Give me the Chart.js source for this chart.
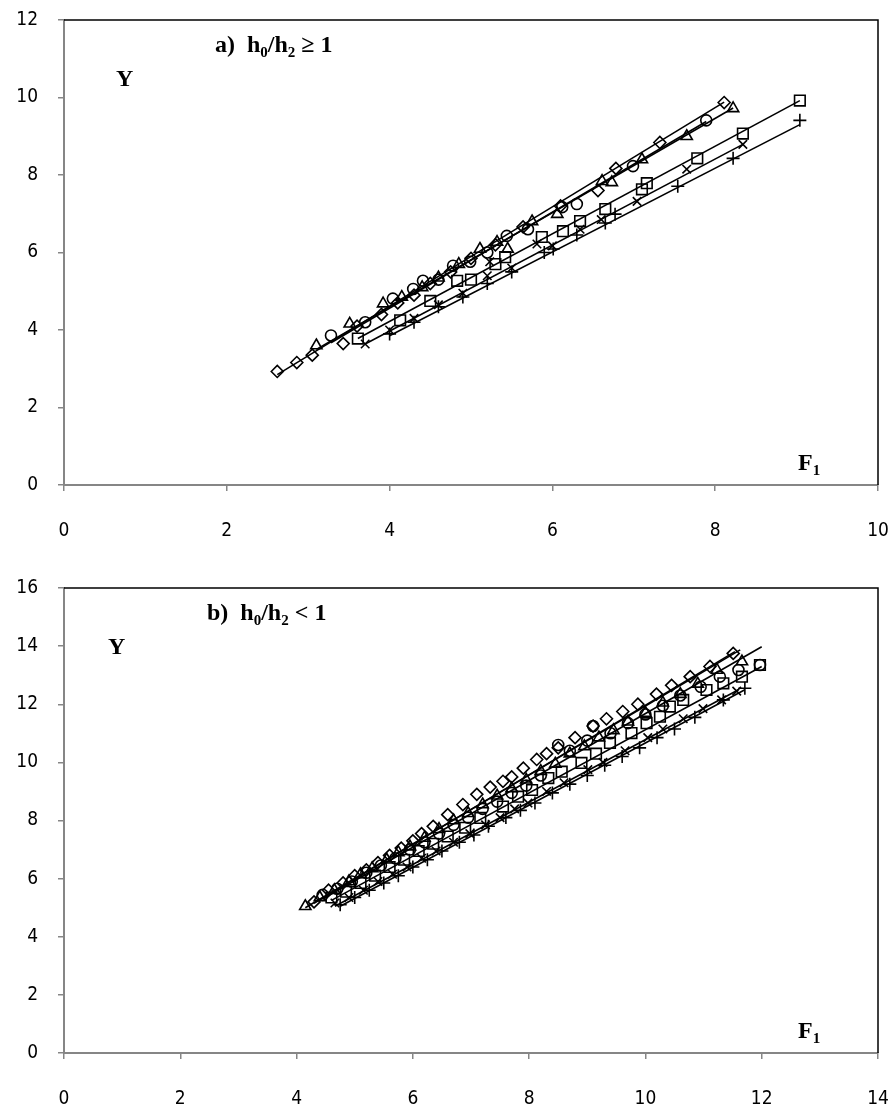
<!DOCTYPE html>
<html>
<head>
<meta charset="utf-8">
<script src="https://cdn.jsdelivr.net/npm/chart.js@4.4.0/dist/chart.umd.min.js"></script>
<style>
  body { margin: 0; background: #fff; width: 890px; height: 1106px; position: relative; overflow: hidden; }
  .box { position: absolute; left: 0; width: 890px; height: 553px; }
  .lbl { position: absolute; font-family: "Liberation Serif", "Times New Roman", serif; font-weight: bold; font-size: 24px; color: #000; white-space: nowrap; line-height: 1; }
  .lbl sub { font-size: 15px; vertical-align: -5px; line-height: 0; }
</style>
</head>
<body>
<div class="box" style="top:0"><canvas id="chartA" width="890" height="553"></canvas></div>
<div class="box" style="top:553px"><canvas id="chartB" width="890" height="553"></canvas></div>

<div class="lbl" style="left:116px;top:66px">Y</div>
<div class="lbl" style="left:215px;top:32px">a)&nbsp; h<sub>0</sub>/h<sub>2</sub> ≥ 1</div>
<div class="lbl" style="left:798px;top:450px">F<sub>1</sub></div>

<div class="lbl" style="left:108px;top:634px">Y</div>
<div class="lbl" style="left:207px;top:600px">b)&nbsp; h<sub>0</sub>/h<sub>2</sub> &lt; 1</div>
<div class="lbl" style="left:798px;top:1018px">F<sub>1</sub></div>

<script>
// ---- chart a) h0/h2 >= 1 ----
const topDiamondX = [2.62, 2.86, 3.05, 3.43, 3.6, 3.9, 4.1, 4.3, 4.5, 4.75, 5.0, 5.3, 5.64, 6.1, 6.56, 6.78, 7.32, 8.11]
const topDiamondY = [2.93, 3.16, 3.35, 3.65, 4.1, 4.4, 4.7, 4.9, 5.2, 5.5, 5.85, 6.2, 6.66, 7.2, 7.6, 8.17, 8.84, 9.87]
const topTriangleX = [3.1, 3.51, 3.92, 4.15, 4.4, 4.6, 4.85, 5.11, 5.32, 5.45, 5.75, 6.06, 6.61, 6.73, 7.1, 7.65, 8.22]
const topTriangleY = [3.6, 4.16, 4.68, 4.85, 5.1, 5.35, 5.7, 6.09, 6.27, 6.09, 6.8, 6.99, 7.84, 7.81, 8.4, 9.0, 9.72]
const topCircleX = [3.28, 3.7, 4.04, 4.29, 4.41, 4.6, 4.78, 4.99, 5.2, 5.44, 5.7, 6.12, 6.3, 6.99, 7.89]
const topCircleY = [3.86, 4.2, 4.81, 5.06, 5.27, 5.3, 5.66, 5.76, 6.0, 6.43, 6.6, 7.17, 7.25, 8.23, 9.41]
const topSquareX = [3.61, 4.13, 4.5, 4.83, 5.0, 5.3, 5.42, 5.87, 6.13, 6.34, 6.65, 7.1, 7.16, 7.78, 8.34, 9.04]
const topSquareY = [3.78, 4.25, 4.75, 5.27, 5.3, 5.7, 5.88, 6.4, 6.55, 6.81, 7.12, 7.63, 7.79, 8.43, 9.07, 9.92]
const topCrossX = [3.7, 4.0, 4.3, 4.6, 4.9, 5.2, 5.23, 5.5, 5.81, 6.0, 6.34, 6.6, 7.04, 7.65, 8.34]
const topCrossY = [3.64, 4.0, 4.3, 4.65, 4.95, 5.4, 5.76, 5.6, 6.22, 6.17, 6.6, 6.85, 7.32, 8.15, 8.79]
const topPlusX = [4.0, 4.3, 4.6, 4.9, 5.2, 5.5, 5.9, 6.01, 6.3, 6.65, 6.77, 7.54, 8.22, 9.04]
const topPlusY = [3.9, 4.2, 4.6, 4.85, 5.2, 5.5, 6.0, 6.09, 6.45, 6.76, 6.99, 7.71, 8.43, 9.41]
// trendline ends [x0, x1], [y0, y1]
const topFitX = { diamond: [2.62, 8.11], triangle: [3.1, 8.22], circle: [3.28, 7.89], square: [3.61, 9.04], cross: [3.7, 8.34], plus: [4.0, 9.04] }
const topFitY = { diamond: [2.85, 9.88], triangle: [3.5, 9.73], circle: [3.67, 9.38], square: [3.78, 9.92], cross: [3.64, 8.79], plus: [3.85, 9.3] }

// ---- chart b) h0/h2 < 1 ----
const botDiamondX = [4.3, 4.55, 4.8, 5.0, 5.2, 5.4, 5.6, 5.8, 6.0, 6.15, 6.35, 6.6, 6.86, 7.1, 7.33, 7.55, 7.7, 7.9, 8.13, 8.3, 8.5, 8.79, 9.1, 9.33, 9.61, 9.87, 10.19, 10.45, 10.77, 11.11, 11.51]
const botDiamondY = [5.2, 5.6, 5.85, 6.1, 6.3, 6.55, 6.8, 7.05, 7.3, 7.55, 7.8, 8.2, 8.55, 8.9, 9.15, 9.35, 9.5, 9.8, 10.1, 10.3, 10.5, 10.85, 11.25, 11.5, 11.75, 12.0, 12.35, 12.65, 12.95, 13.3, 13.75]
const botTriangleX = [4.15, 4.4, 4.65, 4.9, 5.1, 5.3, 5.55, 5.75, 5.95, 6.2, 6.45, 6.7, 6.95, 7.2, 7.45, 7.7, 7.95, 8.2, 8.45, 8.7, 8.95, 9.2, 9.45, 9.7, 10.0, 10.3, 10.6, 10.9, 11.23, 11.66]
const botTriangleY = [5.05, 5.35, 5.6, 5.9, 6.15, 6.35, 6.65, 6.9, 7.1, 7.4, 7.7, 8.0, 8.25, 8.55, 8.85, 9.1, 9.4, 9.7, 9.95, 10.3, 10.55, 10.85, 11.1, 11.4, 11.7, 12.05, 12.35, 12.7, 13.18, 13.47]
const botCircleX = [4.45, 4.7, 4.95, 5.2, 5.45, 5.7, 5.95, 6.2, 6.45, 6.7, 6.95, 7.2, 7.45, 7.7, 7.95, 8.2, 8.5, 8.7, 9.0, 9.1, 9.4, 9.7, 10.0, 10.3, 10.6, 10.95, 11.28, 11.6, 11.97]
const botCircleY = [5.44, 5.65, 5.9, 6.2, 6.45, 6.7, 7.0, 7.25, 7.55, 7.85, 8.1, 8.4, 8.65, 8.95, 9.2, 9.55, 10.6, 10.4, 10.75, 11.25, 11.0, 11.35, 11.65, 11.95, 12.3, 12.6, 12.95, 13.18, 13.35]
const botSquareX = [4.6, 4.85, 5.1, 5.35, 5.6, 5.85, 6.1, 6.35, 6.6, 6.9, 7.16, 7.55, 7.81, 8.05, 8.33, 8.56, 8.9, 9.15, 9.39, 9.76, 10.02, 10.25, 10.42, 10.65, 11.05, 11.34, 11.66, 11.97]
const botSquareY = [5.35, 5.55, 5.85, 6.1, 6.4, 6.65, 6.95, 7.2, 7.45, 7.75, 8.09, 8.48, 8.82, 9.05, 9.46, 9.68, 9.98, 10.3, 10.67, 11.01, 11.35, 11.57, 11.92, 12.15, 12.49, 12.72, 12.95, 13.35]
const botCrossX = [4.66, 4.9, 5.15, 5.4, 5.65, 5.9, 6.15, 6.4, 6.7, 6.98, 7.25, 7.5, 7.75, 7.98, 8.3, 8.6, 9.01, 9.27, 9.65, 10.04, 10.3, 10.65, 10.99, 11.31, 11.57]
const botCrossY = [5.16, 5.35, 5.6, 5.9, 6.15, 6.4, 6.7, 6.95, 7.25, 7.55, 7.85, 8.1, 8.4, 8.6, 9.0, 9.3, 9.75, 10.0, 10.4, 10.85, 11.15, 11.5, 11.85, 12.15, 12.45]
const botPlusX = [4.75, 5.0, 5.25, 5.5, 5.75, 6.0, 6.25, 6.5, 6.8, 7.05, 7.3, 7.6, 7.85, 8.1, 8.4, 8.7, 9.0, 9.3, 9.6, 9.9, 10.2, 10.5, 10.85, 11.34, 11.71]
const botPlusY = [5.1, 5.35, 5.6, 5.85, 6.1, 6.4, 6.65, 6.95, 7.25, 7.5, 7.8, 8.1, 8.35, 8.6, 8.95, 9.25, 9.55, 9.9, 10.2, 10.5, 10.85, 11.15, 11.55, 12.15, 12.55]
const botFitX = { diamond: [4.3, 11.54], triangle: [4.15, 11.63], circle: [4.45, 12.0], square: [4.6, 12.0], cross: [4.66, 11.6], plus: [4.75, 11.71] }
const botFitY = { diamond: [5.15, 13.81], triangle: [5.0, 13.87], circle: [5.3, 13.98], square: [5.25, 13.3], cross: [5.05, 12.5], plus: [5.05, 12.5] }

// axis ranges
const topXMax = 10, topYMax = 12
const botXMax = 14, botYMax = 16
const tickStep = 2

const markerStyle = {
  diamond: { pointStyle: 'rectRot', radius: 6 },
  triangle: { pointStyle: 'triangle', radius: 6.5 },
  circle: { pointStyle: 'circle', radius: 5.5 },
  square: { pointStyle: 'rect', radius: 7.5 },
  cross: { pointStyle: 'crossRot', radius: 6 },
  plus: { pointStyle: 'cross', radius: 6.5 }
}

function zip(xs, ys) {
  return xs.map((x, i) => ({ x: x, y: ys[i] }))
}

function buildSets(series, fitX, fitY) {
  const sets = []
  for (const name in series) {
    sets.push({
      label: name + ' fit',
      data: zip(fitX[name], fitY[name]),
      showLine: true,
      borderColor: '#000',
      borderWidth: 1.6,
      pointRadius: 0,
      order: 2
    })
  }
  for (const name in series) {
    const s = markerStyle[name]
    sets.push({
      label: name,
      data: zip(series[name][0], series[name][1]),
      showLine: false,
      pointStyle: s.pointStyle,
      pointRadius: s.radius,
      pointBorderColor: '#000',
      pointBackgroundColor: 'rgba(0,0,0,0)',
      pointBorderWidth: 1.6,
      order: 1
    })
  }
  return sets
}

const frame = {
  id: 'frame',
  afterDraw(chart) {
    const a = chart.chartArea
    const c = chart.ctx
    c.save()
    c.strokeStyle = '#000'
    c.lineWidth = 1.5
    c.beginPath()
    c.moveTo(a.left, a.top)
    c.lineTo(a.right, a.top)
    c.lineTo(a.right, a.bottom)
    c.stroke()
    c.restore()
  }
}

const tickFont = { family: "'Liberation Sans Narrow', 'DejaVu Sans Condensed', sans-serif", size: 19 }

function makeChart(id, sets, xMax, yMax, padTop, xHeight) {
  const axisCommon = {
    type: 'linear',
    min: 0,
    border: { color: '#868686', width: 2 },
    grid: { drawOnChartArea: false, drawTicks: true, tickLength: 6, color: '#868686', lineWidth: 1.5 }
  }
  return new Chart(document.getElementById(id), {
    type: 'scatter',
    data: { datasets: sets },
    options: {
      responsive: false,
      animation: false,
      layout: { padding: { top: padTop, right: 12, left: 0, bottom: 0 } },
      plugins: { legend: { display: false }, tooltip: { enabled: false } },
      scales: {
        x: Object.assign({}, axisCommon, {
          max: xMax,
          ticks: { stepSize: tickStep, color: '#000', font: tickFont, padding: 29, maxRotation: 0 },
          afterFit: (scale) => {
            scale.height = xHeight
            scale.paddingLeft = 0
            scale.paddingRight = 0
          }
        }),
        y: Object.assign({}, axisCommon, {
          max: yMax,
          ticks: { stepSize: tickStep, color: '#000', font: tickFont, padding: 20 },
          afterFit: (scale) => {
            scale.width = 64
            scale.paddingTop = 0
            scale.paddingBottom = 0
          }
        })
      }
    },
    plugins: [frame]
  })
}

const topSeries = {
  diamond: [topDiamondX, topDiamondY], triangle: [topTriangleX, topTriangleY], circle: [topCircleX, topCircleY],
  square: [topSquareX, topSquareY], cross: [topCrossX, topCrossY], plus: [topPlusX, topPlusY]
}
const botSeries = {
  diamond: [botDiamondX, botDiamondY], triangle: [botTriangleX, botTriangleY], circle: [botCircleX, botCircleY],
  square: [botSquareX, botSquareY], cross: [botCrossX, botCrossY], plus: [botPlusX, botPlusY]
}

makeChart('chartA', buildSets(topSeries, topFitX, topFitY), topXMax, topYMax, 20, 68)
makeChart('chartB', buildSets(botSeries, botFitX, botFitY), botXMax, botYMax, 35, 53)
</script>
</body>
</html>
